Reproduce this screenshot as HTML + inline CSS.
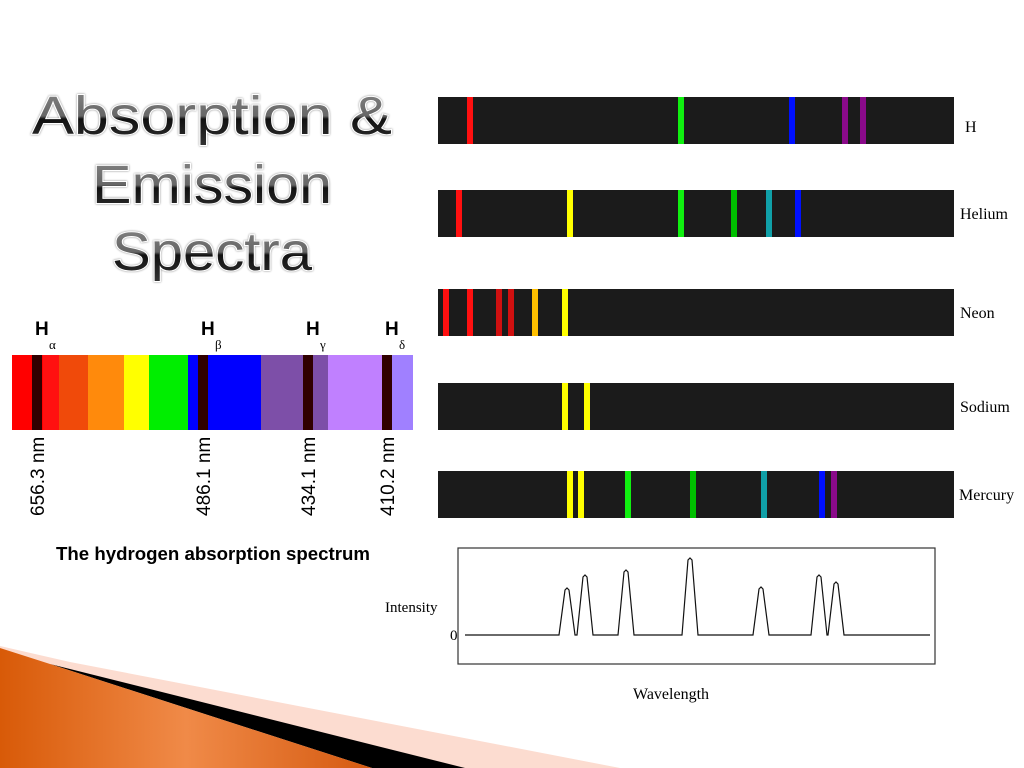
<!DOCTYPE html>
<html><head><meta charset="utf-8">
<style>
body{margin:0;width:1024px;height:768px;background:#fff;overflow:hidden;position:relative;font-family:"Liberation Sans",sans-serif}
svg{position:absolute;left:0;top:0}
</style></head><body>
<svg id="s" width="1024" height="768" viewBox="0 0 1024 768">
<defs>
<linearGradient id="tg" x1="0" y1="0" x2="0" y2="1">
<stop offset="0" stop-color="#888"/><stop offset="0.5" stop-color="#666"/><stop offset="0.55" stop-color="#111"/><stop offset="1" stop-color="#333"/>
</linearGradient>
<linearGradient id="og" x1="0" y1="0" x2="1" y2="0">
<stop offset="0" stop-color="#d85a08"/><stop offset="0.5" stop-color="#f08a48"/><stop offset="1" stop-color="#d55a10"/>
</linearGradient>
</defs>
<polygon points="0,646 70,662 620,768 0,768" fill="#fcdcd0"/>
<polygon points="50,664 465,768 372,768" fill="#000"/>
<polygon points="0,648 50,664 372,768 0,768" fill="url(#og)"/>
<g font-family="Liberation Sans, sans-serif" font-size="54" text-anchor="middle" fill="url(#tg)" stroke="#fff" stroke-width="2" paint-order="stroke" style="filter:drop-shadow(0 0 1px #888)">
<text x="212" y="134" textLength="360" lengthAdjust="spacingAndGlyphs">Absorption &amp;</text>
<text x="212" y="203" textLength="240" lengthAdjust="spacingAndGlyphs">Emission</text>
<text x="212" y="270" textLength="200" lengthAdjust="spacingAndGlyphs">Spectra</text>
</g>
<g id="hbar"></g>
<g id="strips"></g>
<g id="chart"></g>
<text x="56" y="560" font-size="18" font-weight="bold" textLength="314" lengthAdjust="spacingAndGlyphs">The hydrogen absorption spectrum</text>
</svg>
<script>
const NS='http://www.w3.org/2000/svg';
function mk(p,t,a){const e=document.createElementNS(NS,t);for(const k in a)e.setAttribute(k,a[k]);p.appendChild(e);return e;}

const hSegX=[12,43,59,88,124,149,188,261,328,391];
const hSegC=['#ff0000','#ff1010','#f04a0a','#ff8a0c','#ffff00','#00ee00','#0000ff','#7d4fa8','#c080ff','#a080ff'];
const hLineX=[37,203,308,387];
const hNames=['α','β','γ','δ'];
const hLabels=['656.3 nm','486.1 nm','434.1 nm','410.2 nm'];
const hb=document.getElementById('hbar');
hSegX.forEach((x,i)=>{const w=(i<hSegX.length-1?hSegX[i+1]:413)-x;
 const r=mk(hb,'rect',{x:x,y:355,width:w,height:75,fill:hSegC[i]});
 
 });
mk(hb,'rect',{x:32,y:355,width:11,height:75,fill:'#ff0000'});
hLineX.forEach((x,i)=>{
 const l=mk(hb,'rect',{x:x-5,y:355,width:10,height:75,fill:'#300000'});
 
 
 const h=mk(hb,'text',{x:x-2,y:335,'font-size':19,'font-weight':'bold'});h.textContent='H';
 
 
 const s=mk(hb,'text',{x:x+12,y:349,'font-size':13,'font-family':'Liberation Serif, serif'});s.textContent=hNames[i];
 
 
 const t=mk(hb,'text',{x:0,y:0,'font-size':19,transform:`translate(${x+7},516) rotate(-90)`});t.textContent=hLabels[i];
 
 
});

const elements=['H','Helium','Neon','Sodium','Mercury'];
const stripY=[97,190,289,383,471];
const lineX=[[470,681,792,845,863],[459,570,681,734,769,798],[446,470,499,511,535,565],[565,587],[570,581,628,693,764,822,834]];
const lineC=[['#ff1010','#10f010','#0010ff','#8a0a8a','#8a0a8a'],['#ff1010','#ffff00','#10f010','#00c000','#10a0a8','#0010ff'],['#ff1010','#ff1010','#d01010','#d01010','#ffc000','#ffff00'],['#ffff00','#ffff00'],['#ffff00','#ffff00','#10f010','#00c000','#10a0a8','#0010ff','#8a0a8a']];
const st=document.getElementById('strips');
elements.forEach((n,i)=>{
 const r=mk(st,'rect',{x:438,y:stripY[i],width:516,height:47,fill:'#1b1b1b'});
 
 
 lineX[i].forEach((x,j)=>{const l=mk(st,'rect',{x:x-3,y:stripY[i],width:6,height:47,fill:lineC[i][j]});
  
  });
 const t=mk(st,'text',{x:i==0?965:(i==4?959:960),y:stripY[i]+(i==0?35:29),'font-size':16,'font-family':'Liberation Serif, serif'});t.textContent=n;
 
 
});

const peakX=[567,585,626,690,761,819,836];
const peakH=[45,58,63,75,46,58,51];
const ch=document.getElementById('chart');
const base=635, hw=8;
const box=mk(ch,'rect',{x:458,y:548,width:477,height:116,fill:'none',stroke:'#333','stroke-width':1.2});


let d=`M465,${base}`;
peakX.forEach((x,i)=>{d+=` L${x-hw},${base} L${x-2},${base-peakH[i]} L${x},${base-peakH[i]-2} L${x+2},${base-peakH[i]} L${x+hw},${base}`;});
d+=` L930,${base}`;
const p=mk(ch,'path',{d:d,fill:'none',stroke:'#111','stroke-width':1.2});


const lbls=[['Intensity',385,612,15],['0',450,640,15],['Wavelength',633,699,16]];
lbls.forEach(([s,x,y,f])=>{const t=mk(ch,'text',{x:x,y:y,'font-size':f,'font-family':'Liberation Serif, serif'});t.textContent=s;
 
 });
</script>
</body></html>
